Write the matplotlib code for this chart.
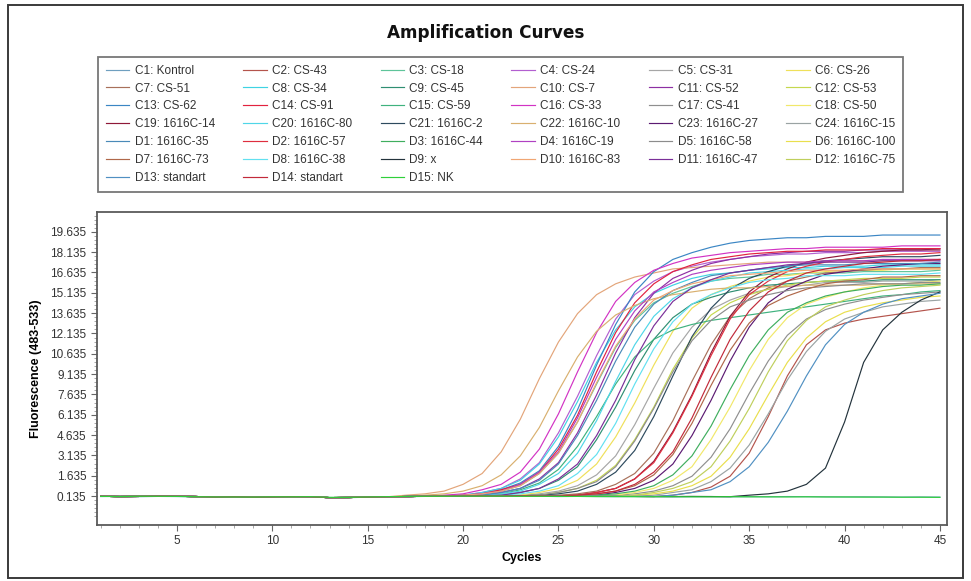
import matplotlib
matplotlib.use("Agg")
import matplotlib.pyplot as plt
from matplotlib.patches import Rectangle
import numpy as np

# cycles 1..45
cycles = list(range(1, 46))

baseline = [0.12, 0.10, 0.11, 0.13, 0.12, 0.10, 0.06, 0.08, 0.05, 0.07,
            0.09, 0.08, 0.02, 0.03, 0.06, 0.08, 0.10, 0.12, 0.13, 0.14,
            0.15, 0.14, 0.16, 0.15, 0.14, 0.12, 0.13, 0.12, 0.11, 0.10,
            0.10, 0.11, 0.10, 0.09, 0.10, 0.11, 0.12, 0.10, 0.09, 0.08,
            0.09, 0.10, 0.08, 0.09, 0.10]

names = ["C1: Kontrol", "C2: CS-43", "C3: CS-18", "C4: CS-24", "C5: CS-31", "C6: CS-26",
         "C7: CS-51", "C8: CS-34", "C9: CS-45", "C10: CS-7", "C11: CS-52", "C12: CS-53",
         "C13: CS-62", "C14: CS-91", "C15: CS-59", "C16: CS-33", "C17: CS-41", "C18: CS-50",
         "C19: 1616C-14", "C20: 1616C-80", "C21: 1616C-2", "C22: 1616C-10", "C23: 1616C-27", "C24: 1616C-15",
         "D1: 1616C-35", "D2: 1616C-57", "D3: 1616C-44", "D4: 1616C-19", "D5: 1616C-58", "D6: 1616C-100",
         "D7: 1616C-73", "D8: 1616C-38", "D9: x", "D10: 1616C-83", "D11: 1616C-47", "D12: 1616C-75",
         "D13: standart", "D14: standart", "D15: NK"]

colors = ["#6f9fbf", "#b4544c", "#5ec49a", "#b25fd0", "#a6a6a6", "#efe05a",
          "#a8705a", "#3fd3e3", "#2f8f72", "#e3a57a", "#8d2fa3", "#c5d84e",
          "#3b86c4", "#e2223f", "#3fb27e", "#d233c4", "#8f8f8f", "#f1e86a",
          "#8f1838", "#4fd6e8", "#2d4a5e", "#d9b06f", "#5b1a72", "#9aa3a3",
          "#4a8ab8", "#de2e3e", "#3fae5e", "#b041c2", "#8c8c8c", "#e9df4d",
          "#b0684a", "#62e0f0", "#23333c", "#f0a673", "#7a2f99", "#bfcf5c",
          "#5090c2", "#c22a3a", "#2fd03a"]

# fluorescence after leaving the baseline (last value = cycle 45)
c01 = [0.10, 0.12, 0.09, 0.11, 0.10, 0.08, 0.09, 0.07, 0.04, 0.06,
       0.08, 0.07, 0.03, 0.02, 0.05, 0.07, 0.09, 0.11, 0.12, 0.12,
       0.13, 0.12, 0.11, 0.12, 0.10, 0.11, 0.10, 0.09, 0.10, 0.09,
       0.08, 0.09, 0.10, 0.08, 0.09, 0.08, 0.10, 0.09, 0.08, 0.07,
       0.08, 0.07, 0.06, 0.07, 0.06]
c02 = [0.2, 0.4, 0.8, 1.6, 3.3, 6.0, 9.0, 11.3, 12.4, 12.9, 13.2, 13.4, 13.6, 13.8, 14.0]
c03 = [0.2, 0.3, 0.5, 0.9, 1.8, 3.3, 5.6, 8.4, 11.1, 13.1, 14.4, 15.1, 15.6, 16.0, 16.2, 16.3,
       16.5, 16.5, 16.6, 16.6, 16.6, 16.7, 16.7, 16.7, 16.7, 16.8]
c04 = [0.2, 0.4, 0.7, 1.4, 2.6, 4.8, 7.5, 10.5, 13.2, 15.0, 16.0, 16.7, 17.1, 17.4, 17.6, 17.8,
       17.9, 18.0, 18.0, 18.1, 18.1, 18.1, 18.2, 18.2, 18.2, 18.2]
c05 = [0.2, 0.3, 0.5, 0.9, 1.7, 3.1, 5.4, 8.1, 10.7, 12.6, 13.9, 14.6, 15.1, 15.4, 15.6, 15.7,
       15.9, 15.9, 15.9, 16.0, 16.0, 16.0, 16.1]
c06 = [0.2, 0.4, 0.7, 1.3, 2.5, 4.5, 7.0, 9.8, 12.3, 14.0, 15.0, 15.6, 16.0, 16.3, 16.4, 16.6,
       16.7, 16.8, 16.8, 16.8, 16.9, 16.9, 16.9]
c07 = [0.2, 0.3, 0.5, 1.0, 1.8, 3.3, 5.7, 8.6, 11.3, 13.4, 14.7, 15.5, 16.0, 16.3, 16.6, 16.7,
       16.8, 16.9, 16.9, 17.0, 17.0]
c08 = [0.2, 0.4, 0.7, 1.3, 2.5, 4.5, 7.1, 10.0, 12.4, 14.1, 15.1, 15.7, 16.2, 16.5, 16.6, 16.8,
       16.9, 17.0, 17.0, 17.1, 17.1, 17.1, 17.2, 17.2, 17.2, 17.2]
c09 = [0.2, 0.4, 0.7, 1.3, 2.3, 4.3, 6.7, 9.4, 11.7, 13.3, 14.3, 14.8, 15.2, 15.5, 15.7, 15.8,
       15.9, 16.0, 16.0, 16.0, 16.1, 16.1, 16.1, 16.1]
c10 = [0.2, 0.3, 0.5, 1.0, 1.8, 3.4, 5.8, 8.8, 11.5, 13.6, 15.0, 15.8, 16.3, 16.6, 16.9, 17.0,
       17.1, 17.2, 17.3, 17.4, 17.4, 17.4, 17.5, 17.5, 17.5, 17.5, 17.6, 17.6, 17.6]
c11 = [0.2, 0.4, 0.7, 1.4, 2.6, 4.8, 7.6, 10.7, 13.3, 15.1, 16.2, 16.8, 17.3, 17.6, 17.8, 18.0,
       18.1, 18.2, 18.2, 18.2, 18.3, 18.3, 18.3, 18.3, 18.4]
c12 = [0.2, 0.4, 0.7, 1.3, 2.4, 4.3, 6.7, 9.5, 11.8, 13.5, 14.4, 15.0, 15.4, 15.7, 15.9, 16.0,
       16.1, 16.2, 16.2, 16.2, 16.3, 16.3]
c13 = [0.2, 0.3, 0.6, 1.1, 2.0, 3.8, 6.5, 9.8, 12.8, 15.2, 16.7, 17.6, 18.1, 18.5, 18.8, 19.0,
       19.1, 19.2, 19.2, 19.3, 19.3, 19.3, 19.4, 19.4, 19.4, 19.4]
c14 = [0.2, 0.3, 0.6, 1.0, 1.9, 3.6, 6.1, 9.3, 12.2, 14.4, 15.8, 16.7, 17.2, 17.6, 17.8, 18.0,
       18.1, 18.2, 18.2, 18.3, 18.3, 18.3, 18.4, 18.4, 18.4, 18.4]
c15 = [0.2, 0.3, 0.6, 1.1, 2.1, 3.8, 6.0, 8.4, 10.4, 11.7, 12.4, 12.8, 13.1, 13.3, 13.5, 13.7,
       13.9, 14.1, 14.3, 14.5, 14.7, 14.9, 15.0, 15.2, 15.3]
c16 = [0.2, 0.3, 0.6, 1.0, 1.9, 3.6, 6.2, 9.3, 12.2, 14.5, 15.9, 16.8, 17.3, 17.7, 17.9, 18.1,
       18.2, 18.3, 18.4, 18.4, 18.5, 18.5, 18.5, 18.5, 18.6, 18.6, 18.6]
c17 = [0.2, 0.3, 0.5, 0.9, 1.6, 3.0, 5.1, 7.7, 10.1, 12.0, 13.2, 13.9, 14.3, 14.6, 14.8, 15.0,
       15.1, 15.2]
c18 = [0.2, 0.4, 0.7, 1.3, 2.3, 4.3, 6.7, 9.4, 11.7, 13.3, 14.3, 14.8, 15.2, 15.5, 15.7, 15.8,
       15.9, 16.0]
c19 = [0.2, 0.4, 0.7, 1.4, 2.7, 4.9, 7.6, 10.7, 13.4, 15.2, 16.3, 16.9, 17.4, 17.7, 17.9, 18.1,
       18.2, 18.3, 18.3, 18.3]
c20 = [0.2, 0.3, 0.5, 1.0, 1.8, 3.3, 5.7, 8.6, 11.3, 13.4, 14.7, 15.5, 16.0, 16.3, 16.6, 16.7,
       16.8, 16.9, 16.9, 17.0, 17.0, 17.0, 17.1, 17.1, 17.1]
c21 = [0.2, 0.3, 0.5, 1.0, 1.9, 3.5, 6.0, 9.0, 11.9, 14.0, 15.4, 16.2, 16.7, 17.1, 17.3, 17.5,
       17.6, 17.7, 17.8, 17.8, 17.8, 17.9]
c22 = [0.2, 0.3, 0.5, 0.9, 1.7, 3.1, 5.2, 7.9, 10.4, 12.3, 13.5, 14.2, 14.7, 15.0, 15.2, 15.4,
       15.5, 15.5, 15.6, 15.6, 15.7, 15.7, 15.7, 15.7, 15.8, 15.8, 15.8, 15.8]
c23 = [0.2, 0.4, 0.7, 1.3, 2.5, 4.6, 7.2, 10.1, 12.6, 14.4, 15.4, 16.0, 16.5, 16.7, 16.9, 17.1,
       17.2, 17.3, 17.3]
c24 = [0.2, 0.4, 0.6, 1.2, 2.2, 3.9, 6.2, 8.7, 10.8, 12.3, 13.2, 13.7, 14.1, 14.3, 14.5, 14.6]
d01 = [0.2, 0.4, 0.7, 1.3, 2.5, 4.6, 7.2, 10.1, 12.6, 14.3, 15.3, 15.9, 16.4, 16.6, 16.8, 17.0,
       17.1, 17.2, 17.2, 17.2, 17.3, 17.3, 17.3, 17.3, 17.4]
d02 = [0.2, 0.4, 0.7, 1.4, 2.6, 4.8, 7.5, 10.5, 13.2, 15.0, 16.0, 16.7, 17.1, 17.4, 17.6, 17.8,
       17.9, 18.0, 18.0, 18.1]
d03 = [0.2, 0.3, 0.5, 0.9, 1.7, 3.1, 5.3, 8.0, 10.5, 12.4, 13.7, 14.4, 14.9, 15.2, 15.4, 15.6,
       15.7, 15.7, 15.8]
d04 = [0.2, 0.3, 0.5, 1.0, 1.9, 3.4, 5.9, 8.9, 11.7, 13.8, 15.2, 15.9, 16.5, 16.8, 17.0, 17.2,
       17.3, 17.4, 17.4, 17.5, 17.5, 17.5, 17.6, 17.6, 17.6, 17.6]
d05 = [0.2, 0.4, 0.7, 1.2, 2.3, 4.2, 6.6, 9.3, 11.6, 13.1, 14.1, 14.6, 15.0, 15.3, 15.5, 15.6,
       15.7, 15.8, 15.8, 15.8, 15.9, 15.9]
d06 = [0.2, 0.3, 0.5, 0.9, 1.6, 3.0, 5.1, 7.6, 10.0, 11.8, 13.0, 13.7, 14.1, 14.4, 14.6, 14.8,
       14.9]
d07 = [0.2, 0.3, 0.5, 0.9, 1.7, 3.2, 5.5, 8.3, 10.9, 12.9, 14.2, 14.9, 15.4, 15.8, 16.0, 16.1,
       16.3, 16.3, 16.4, 16.4]
d08 = [0.2, 0.3, 0.5, 0.9, 1.8, 3.2, 5.5, 8.4, 11.0, 13.0, 14.3, 15.0, 15.5, 15.9, 16.1, 16.2,
       16.4, 16.4, 16.4, 16.5, 16.5, 16.5, 16.5, 16.6]
d09 = [0.2, 0.3, 0.5, 1.0, 2.2, 5.6, 10.0, 12.4, 13.7, 14.6, 15.2]
d10 = [0.2, 0.3, 0.5, 0.9, 1.8, 3.3, 5.6, 8.5, 11.2, 13.2, 14.6, 15.3, 15.8, 16.1, 16.4, 16.5,
       16.6, 16.7, 16.8, 16.8, 16.8, 16.9, 16.9, 16.9, 16.9, 16.9]
d11 = [0.2, 0.4, 0.7, 1.4, 2.5, 4.6, 7.2, 10.2, 12.7, 14.5, 15.5, 16.1, 16.6, 16.8, 17.0, 17.2,
       17.3, 17.4, 17.4, 17.4, 17.5, 17.5, 17.5, 17.5]
d12 = [0.2, 0.4, 0.7, 1.2, 2.3, 4.2, 6.6, 9.3, 11.6, 13.1, 14.1, 14.6, 15.0, 15.3, 15.5, 15.6,
       15.7]
d13 = [0.2, 0.4, 0.6, 1.2, 2.3, 4.1, 6.4, 9.0, 11.3, 12.8, 13.7, 14.3, 14.7, 14.9, 15.1]
d14 = [0.2, 0.3, 0.5, 1.0, 1.9, 3.4, 5.9, 8.9, 11.7, 13.8, 15.2, 16.0, 16.6, 16.9, 17.1, 17.3,
       17.4, 17.5, 17.5, 17.6]
d15 = [0.11, 0.10, 0.12, 0.12, 0.11, 0.09, 0.07, 0.07, 0.06, 0.08,
       0.08, 0.09, 0.04, 0.04, 0.07, 0.09, 0.11, 0.12, 0.12, 0.13,
       0.13, 0.13, 0.12, 0.12, 0.11, 0.11, 0.10, 0.10, 0.09, 0.09,
       0.09, 0.08, 0.08, 0.09, 0.08, 0.08, 0.07, 0.08, 0.07, 0.07,
       0.06, 0.06, 0.05, 0.05, 0.04]

rises = [c01, c02, c03, c04, c05, c06, c07, c08, c09, c10, c11, c12,
         c13, c14, c15, c16, c17, c18, c19, c20, c21, c22, c23, c24,
         d01, d02, d03, d04, d05, d06, d07, d08, d09, d10, d11, d12,
         d13, d14, d15]

yticks = [0.135, 1.635, 3.135, 4.635, 6.135, 7.635, 9.135, 10.635,
          12.135, 13.635, 15.135, 16.635, 18.135, 19.635]
ytick_labels = ["0.135", "1.635", "3.135", "4.635", "6.135", "7.635", "9.135", "10.635",
                "12.135", "13.635", "15.135", "16.635", "18.135", "19.635"]
xticks = [5, 10, 15, 20, 25, 30, 35, 40, 45]

fnt = "Liberation Sans"

fig = plt.figure(figsize=(9.71, 5.81), dpi=100)
fig.patch.set_facecolor("white")

# outer frame
fig.add_artist(Rectangle((8 / 971, 1 - 578 / 581), 955 / 971, 573 / 581,
                         transform=fig.transFigure, fill=False,
                         edgecolor="#3a3a3a", linewidth=1.4))

fig.text(486 / 971, 1 - 33 / 581, "Amplification Curves", ha="center", va="center",
         fontsize=12.2, fontweight="heavy", family="DejaVu Sans", color="#111111")

ax = fig.add_axes([97 / 971, 1 - 525 / 581, 850 / 971, 313 / 581])

handles = []
for r, c in zip(rises, colors):
    y = baseline[:45 - len(r)] + r
    ln, = ax.plot(cycles, y, color=c, linewidth=0.85)
    handles.append(ln)

ax.set_xlim(0.81, 45.37)
ax.set_ylim(-2.0, 21.1)
ax.set_xticks(xticks)
ax.set_xticklabels([str(v) for v in xticks])
ax.set_xticks(np.arange(1, 46), minor=True)
ax.set_yticks(yticks)
ax.set_yticklabels(ytick_labels)
ax.set_yticks(np.arange(0.135 - 1.5, 21.0, 0.3), minor=True)
ax.tick_params(axis="both", which="major", labelsize=8.5, length=4, color="#666666",
               labelcolor="#333333")
ax.tick_params(axis="both", which="minor", length=2, color="#999999")
for lab in ax.get_xticklabels() + ax.get_yticklabels():
    lab.set_family(fnt)
for sp in ax.spines.values():
    sp.set_color("#5a5a5a")
    sp.set_linewidth(1.3)

ax.set_xlabel("Cycles", fontsize=9, fontweight="bold", family=fnt, labelpad=3)
ax.set_ylabel("Fluorescence (483-533)", fontsize=9, fontweight="bold", family=fnt, labelpad=6)

# legend filled row by row like the instrument software
order = [i for j in range(6) for i in range(j, len(names), 6)]
leg = fig.legend([handles[i] for i in order], [names[i] for i in order],
                 ncol=6, loc="upper left", mode="expand", borderaxespad=0,
                 bbox_to_anchor=(98 / 971, 1 - 57 / 581, 805 / 971, 0),
                 prop={"family": fnt, "size": 8.5}, frameon=True, fancybox=False,
                 edgecolor="#555555", handlelength=2.0, handletextpad=0.45,
                 labelspacing=0.5, borderpad=0.65, columnspacing=0.5)
leg.get_frame().set_linewidth(1.3)
for t in leg.get_texts():
    t.set_color("#333333")

fig.savefig("out.png", dpi=100)
